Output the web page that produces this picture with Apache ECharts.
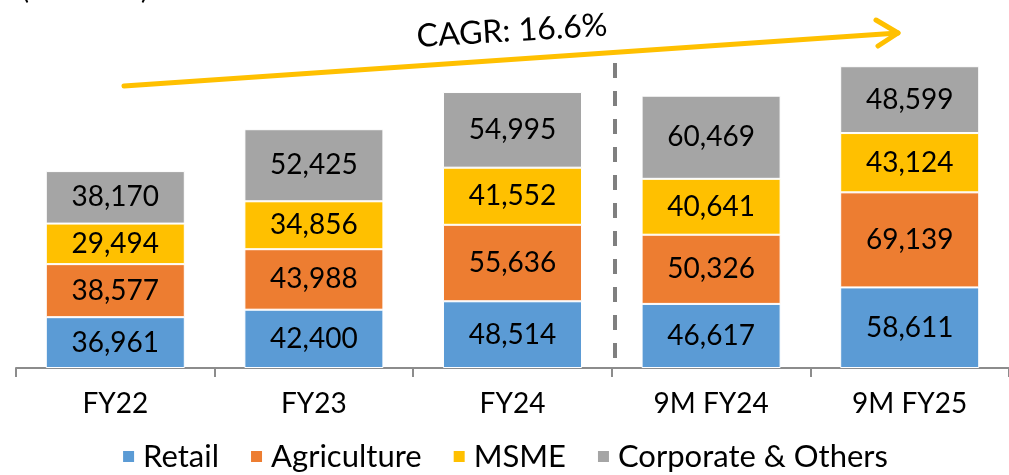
<!DOCTYPE html>
<html>
<head>
<meta charset="utf-8">
<script src="https://cdn.jsdelivr.net/npm/echarts@6/dist/echarts.min.js"></script>
<style>
  html, body { margin: 0; padding: 0; background: #fff; }
  #chart { width: 1009px; height: 475px; }
</style>
</head>
<body>
<div id="chart"></div>
<script>
const categories = ['FY22', 'FY23', 'FY24', '9M FY24', '9M FY25'];
const retail = [36961, 42400, 48514, 46617, 58611];
const agriculture = [38577, 43988, 55636, 50326, 69139];
const msme = [29494, 34856, 41552, 40641, 43124];
const corporate = [38170, 52425, 54995, 60469, 48599];

const fontFamily = 'Lato, "Noto Sans", sans-serif';

function makeSeries(name, data, color) {
    return {
        name: name,
        type: 'bar',
        stack: 'total',
        barWidth: '70%',
        data: data,
        itemStyle: { color: color, borderColor: '#ffffff', borderWidth: 1 },
        label: {
            show: true,
            position: 'inside',
            color: '#000',
            fontSize: 28,
            fontFamily: fontFamily,
            formatter: function (p) { return p.value.toLocaleString('en-US'); }
        }
    };
}

const chart = echarts.init(document.getElementById('chart'));
chart.setOption({
    animation: false,
    grid: { left: 16, right: -7, top: 38, bottom: 107, containLabel: false },
    legend: {
        bottom: -2,
        left: 'center',
        itemWidth: 13,
        itemHeight: 13,
        itemGap: 30,
        icon: 'rect',
        textStyle: { fontSize: 31, fontFamily: fontFamily, color: '#000', padding: [0, 0, 0, 3] },
        data: ['Retail', 'Agriculture', 'MSME', 'Corporate & Others']
    },
    xAxis: {
        type: 'category',
        data: categories,
        axisLine: { lineStyle: { color: '#8c8c8c', width: 2 } },
        axisTick: { show: true, length: 9, lineStyle: { color: '#8c8c8c', width: 2 } },
        axisLabel: { margin: 22, fontSize: 28, fontFamily: fontFamily, color: '#000' }
    },
    yAxis: {
        type: 'value',
        min: 0,
        max: 240000,
        show: false,
        splitLine: { show: false }
    },
    series: [
        makeSeries('Retail', retail, '#5b9bd5'),
        makeSeries('Agriculture', agriculture, '#ed7d31'),
        makeSeries('MSME', msme, '#ffc000'),
        makeSeries('Corporate & Others', corporate, '#a5a5a5')
    ],
    graphic: [
        {
            type: 'text',
            left: 22,
            top: -22,
            style: { text: '(₹ in Crore)', fontSize: 26, fontFamily: fontFamily, fill: '#000' }
        },
        {
            type: 'line',
            shape: { x1: 124, y1: 86, x2: 898, y2: 33 },
            style: { stroke: '#ffc000', lineWidth: 5, lineCap: 'round' }
        },
        {
            type: 'polyline',
            shape: { points: [[876, 20], [898, 33], [878, 46]] },
            style: { stroke: '#ffc000', lineWidth: 5, lineCap: 'round', lineJoin: 'round', fill: null }
        },
        {
            type: 'text',
            x: 512,
            y: 31,
            rotation: 0.06,
            style: {
                text: 'CAGR: 16.6%',
                fontSize: 32,
                fontFamily: fontFamily,
                fill: '#000',
                align: 'center',
                verticalAlign: 'middle'
            }
        },
        {
            type: 'line',
            shape: { x1: 615, y1: 63, x2: 615, y2: 366 },
            style: { stroke: '#7f7f7f', lineWidth: 4, lineDash: [15, 13] }
        }
    ]
});
</script>
</body>
</html>
